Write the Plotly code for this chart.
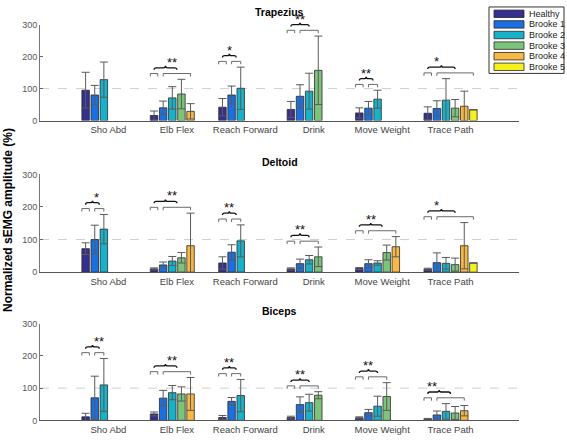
import plotly.graph_objects as go
from plotly.subplots import make_subplots

categories = ["Sho Abd", "Elb Flex", "Reach Forward", "Drink", "Move Weight", "Trace Path"]
series_names = ["Healthy", "Brooke 1", "Brooke 2", "Brooke 3", "Brooke 4", "Brooke 5"]
muscles = ["Trapezius", "Deltoid", "Biceps"]
y_ticks = [0, 100, 200, 300]

# Trapezius
trap_healthy = [95, 16, 42, 35, 24, 23]
trap_b1 = [80, 40, 80, 76, 39, 38]
trap_b2 = [128, 71, 101, 92, 67, 64]
trap_b3 = [None, 83, None, 157, None, 39]
trap_b4 = [None, 29, None, None, None, 45]
trap_b5 = [None, None, None, None, None, 34]
trap_healthy_sd = [56, 14, 27, 25, 16, 20]
trap_b1_sd = [30, 21, 28, 36, 21, 24]
trap_b2_sd = [55, 35, 66, 56, 28, 67]
trap_b3_sd = [None, 46, None, 107, None, 27]
trap_b4_sd = [None, 24, None, None, None, 47]
trap_b5_sd = [None, None, None, None, None, None]
trap_sig = ["", "**", "*", "**", "**", "*"]

# Deltoid
delt_healthy = [72, 10, 28, 10, 11, 9]
delt_b1 = [100, 22, 61, 26, 26, 29]
delt_b2 = [132, 34, 96, 38, 28, 27]
delt_b3 = [None, 44, None, 47, 60, 23]
delt_b4 = [None, 81, None, None, 78, 81]
delt_b5 = [None, None, None, None, None, 28]
delt_healthy_sd = [18, 3, 19, 3, 3, 3]
delt_b1_sd = [44, 9, 23, 14, 12, 30]
delt_b2_sd = [45, 14, 49, 13, 7, 18]
delt_b3_sd = [None, 16, None, 30, 23, 20]
delt_b4_sd = [None, 100, None, None, 31, 71]
delt_b5_sd = [None, None, None, None, None, None]
delt_sig = ["*", "**", "**", "**", "**", "*"]

# Biceps
bic_healthy = [11, 20, 9, 9, 8, 4]
bic_b1 = [70, 69, 59, 49, 24, 17]
bic_b2 = [110, 86, 77, 55, 44, 28]
bic_b3 = [None, 82, None, 78, 74, 23]
bic_b4 = [None, 82, None, None, None, 30]
bic_b5 = [None, None, None, None, None, None]
bic_healthy_sd = [11, 6, 6, 4, 3, 2]
bic_b1_sd = [67, 24, 12, 24, 10, 12]
bic_b2_sd = [82, 22, 50, 26, 31, 24]
bic_b3_sd = [None, 22, None, 11, 43, 20]
bic_b4_sd = [None, 51, None, None, None, 16]
bic_b5_sd = [None, None, None, None, None, None]
bic_sig = ["**", "**", "**", "**", "**", "**"]

colors = ["#35308f", "#1b6fe0", "#17b2c9", "#7cc47a", "#f7b845", "#f5f01e"]

panels = [
    ([trap_healthy, trap_b1, trap_b2, trap_b3, trap_b4, trap_b5],
     [trap_healthy_sd, trap_b1_sd, trap_b2_sd, trap_b3_sd, trap_b4_sd, trap_b5_sd], trap_sig),
    ([delt_healthy, delt_b1, delt_b2, delt_b3, delt_b4, delt_b5],
     [delt_healthy_sd, delt_b1_sd, delt_b2_sd, delt_b3_sd, delt_b4_sd, delt_b5_sd], delt_sig),
    ([bic_healthy, bic_b1, bic_b2, bic_b3, bic_b4, bic_b5],
     [bic_healthy_sd, bic_b1_sd, bic_b2_sd, bic_b3_sd, bic_b4_sd, bic_b5_sd], bic_sig),
]

W, H = 567, 442
FONT = "Arial, Liberation Sans, Helvetica, sans-serif"
XR = [0, 7]
YR = [0, 300]

fig = make_subplots(rows=3, cols=1)

bargap = 0.2
nser = len(series_names)
slot = (1 - bargap) / nser
xpos = list(range(1, len(categories) + 1))

def center(cat_idx, ser_idx):
    return xpos[cat_idx] - (1 - bargap) / 2 + slot * (ser_idx + 0.5)

# pixel layout of the three axes (top, bottom in px)
ypix = [(20, 118.3), (173.3, 273.3), (326, 425)]
x_left, x_right = 40, 519

def to_paper(x, y, p):
    top, bot = ypix[p]
    px = x_left + (x - XR[0]) / (XR[1] - XR[0]) * (x_right - x_left)
    py = bot - (y - YR[0]) / (YR[1] - YR[0]) * (bot - top)
    return px / W, 1 - py / H

shapes = []
annotations = []

for p, (means, sds, sig) in enumerate(panels):
    row = p + 1
    for s in range(nser):
        fig.add_trace(go.Bar(
            x=xpos, y=means[s], name=series_names[s],
            marker=dict(color=colors[s], line=dict(color="#2a2a2a", width=0.8)),
            error_y=dict(type="data", array=sds[s], visible=True,
                         color="#5a5a5a", thickness=1, width=4),
            showlegend=False,
        ), row=row, col=1)
    ax = "" if p == 0 else str(p + 1)
    xr, yr = "x" + ax, "y" + ax
    # dashed reference line
    shapes.append(dict(type="line", xref=xr, yref=yr, x0=XR[0], x1=XR[1], y0=100, y1=100,
                       line=dict(color="#cfcfcf", width=1, dash="dash"), layer="below"))
    # significance brackets (paper coords so they are not clipped at the top)
    for c in range(len(categories)):
        if not sig[c]:
            continue
        tops = [means[s][c] + (sds[s][c] or 0) for s in range(nser) if means[s][c] is not None]
        by = max(tops) + 18
        d = 9
        hw = 0.055
        present = [s for s in range(1, nser) if means[s][c] is not None]
        hx = center(c, 0)
        b1x, b2x = center(c, present[0]), center(c, present[-1])
        for xa, xb in [(hx - hw, hx + hw), (b1x, b2x)]:
            pts = [to_paper(xa, by - d, p), to_paper(xa, by, p), to_paper(xb, by, p), to_paper(xb, by - d, p)]
            path = "M " + " L ".join(f"{a},{b}" for a, b in pts)
            shapes.append(dict(type="path", xref="paper", yref="paper", path=path,
                               line=dict(color="#6a6a6a", width=1)))
        xa, xb = hx, (b1x + b2x) / 2
        xm = (xa + xb) / 2
        y0, hm, pk = by + 12, by + 18, by + 24
        q = 0.03
        P = lambda x, y: "{},{}".format(*to_paper(x, y, p))
        path = (f"M {P(xa,y0)} Q {P(xa,hm)} {P(xa+q,hm)} L {P(xm-q,hm)} Q {P(xm,hm)} {P(xm,pk)} "
                f"Q {P(xm,hm)} {P(xm+q,hm)} L {P(xb-q,hm)} Q {P(xb,hm)} {P(xb,y0)}")
        shapes.append(dict(type="path", xref="paper", yref="paper", path=path,
                           line=dict(color="#111111", width=1.3)))
        ax_p, ay_p = to_paper(xm, pk, p)
        annotations.append(dict(x=ax_p, y=ay_p, xref="paper", yref="paper", text=sig[c],
                                showarrow=False, yanchor="bottom", yshift=-6,
                                font=dict(family=FONT, size=13, color="#111111")))
    top, bot = ypix[p]
    fig.update_xaxes(domain=[x_left / W, x_right / W], range=XR, tickvals=xpos,
                     ticktext=categories, ticks="", showline=True, linecolor="#555555",
                     linewidth=1, showgrid=False, zeroline=False,
                     tickfont=dict(family=FONT, size=9.5, color="#444444"), row=row, col=1)
    fig.update_yaxes(domain=[1 - bot / H, 1 - top / H], range=YR, tickvals=y_ticks,
                     ticks="inside", ticklen=3, tickcolor="#666666", showline=True,
                     linecolor="#777777", linewidth=1, showgrid=False, zeroline=False,
                     tickfont=dict(family=FONT, size=9, color="#555555"), row=row, col=1)
    # panel title
    annotations.append(dict(x=(x_left + x_right) / 2 / W, y=1 - (top - 13) / H, xref="paper",
                            yref="paper", text=f"<b>{muscles[p]}</b>", showarrow=False,
                            xanchor="center", yanchor="middle",
                            font=dict(family=FONT, size=10.5, color="#000000")))

# y axis title
annotations.append(dict(x=8 / W, y=1 - 220 / H, xref="paper", yref="paper",
                        text="<b>Normalized sEMG amplitude (%)</b>", textangle=-90,
                        showarrow=False, xanchor="center", yanchor="middle",
                        font=dict(family=FONT, size=12, color="#000000")))

# legend (drawn manually)
lx0, lx1, ly0, ly1 = 489, 564, 2, 70
shapes.append(dict(type="rect", xref="paper", yref="paper", x0=lx0 / W, x1=lx1 / W,
                   y0=1 - ly1 / H, y1=1 - ly0 / H, line=dict(color="#333333", width=1),
                   fillcolor="white", layer="above"))
for i, nm in enumerate(series_names):
    cy = 9 + i * 10.85
    shapes.append(dict(type="rect", xref="paper", yref="paper", x0=494 / W, x1=524 / W,
                       y0=1 - (cy + 3.8) / H, y1=1 - (cy - 3.8) / H,
                       line=dict(color="#2a2a2a", width=0.8), fillcolor=colors[i], layer="above"))
    annotations.append(dict(x=527 / W, y=1 - cy / H, xref="paper", yref="paper", text=nm,
                            showarrow=False, xanchor="left", yanchor="middle",
                            font=dict(family=FONT, size=9, color="#222222")))

fig.update_layout(width=W, height=H, autosize=False, margin=dict(l=0, r=0, t=0, b=0),
                  barmode="group", bargap=bargap, bargroupgap=0.18,
                  plot_bgcolor="white", paper_bgcolor="white",
                  shapes=shapes, annotations=annotations, showlegend=False,
                  font=dict(family=FONT))

fig.write_html("out.html", config={"displayModeBar": False},
               post_script="document.body.style.margin='0';")
